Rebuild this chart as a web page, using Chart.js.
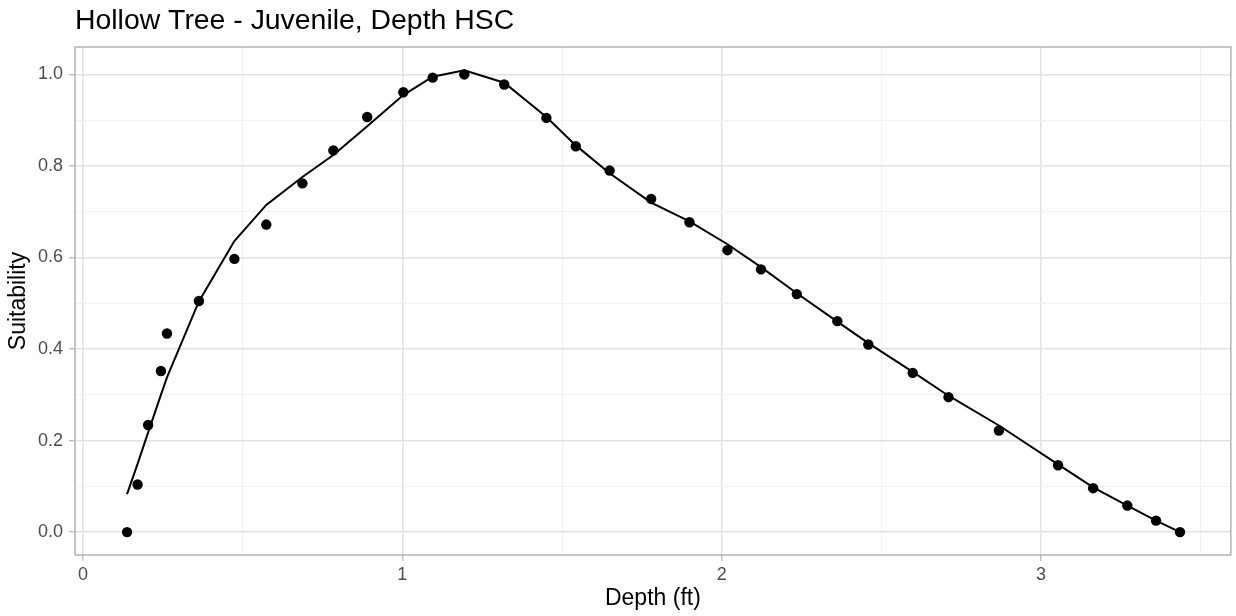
<!DOCTYPE html>
<html>
<head>
<meta charset="utf-8">
<script src="https://cdn.jsdelivr.net/npm/chart.js@4/dist/chart.umd.min.js"></script>
<style>
  body { margin: 0; background: #fff; }
</style>
</head>
<body>
<canvas id="myChart" width="1236" height="616"></canvas>
<script>
// depth (ft) of each observation
const depth = [0.138, 0.171, 0.204, 0.244, 0.263, 0.363, 0.474, 0.574, 0.687, 0.784, 0.890,
  1.003, 1.095, 1.194, 1.319, 1.451, 1.543, 1.649, 1.779, 1.899, 2.018, 2.123, 2.235, 2.362,
  2.459, 2.598, 2.710, 2.868, 3.053, 3.163, 3.270, 3.360, 3.435];
// observed suitability (points)
const suitability = [0.000, 0.104, 0.234, 0.352, 0.434, 0.505, 0.597, 0.672, 0.762, 0.834, 0.907,
  0.961, 0.993, 1.000, 0.978, 0.905, 0.843, 0.790, 0.728, 0.677, 0.616, 0.574, 0.520, 0.461,
  0.410, 0.348, 0.295, 0.222, 0.146, 0.096, 0.058, 0.025, 0.000];
// fitted curve (line)
const fitted = [0.083, 0.149, 0.218, 0.300, 0.338, 0.504, 0.636, 0.715, 0.776, 0.824, 0.887,
  0.955, 0.995, 1.009, 0.982, 0.907, 0.845, 0.784, 0.720, 0.679, 0.629, 0.579, 0.522, 0.460,
  0.413, 0.350, 0.298, 0.233, 0.148, 0.098, 0.058, 0.025, 0.000];

const xTicks = [0, 1, 2, 3];
const yTicks = [0.0, 0.2, 0.4, 0.6, 0.8, 1.0];

const FONT = "'Liberation Sans', Arial, sans-serif";
const MAJOR = '#e2e2e2';
const MINOR = '#f1f1f1';

function isMajor(list, v) {
  return list.some(t => Math.abs(t - v) < 1e-6);
}

const panelBorder = {
  id: 'panelBorder',
  afterDraw(chart) {
    const a = chart.chartArea;
    const c = chart.ctx;
    c.save();
    c.strokeStyle = '#b3b3b3';
    c.lineWidth = 1.5;
    c.strokeRect(a.left, a.top, a.right - a.left, a.bottom - a.top);
    c.restore();
  }
};

const ctx = document.getElementById('myChart').getContext('2d');
const myChart = new Chart(ctx, {
  type: 'scatter',
  data: {
    datasets: [
      {
        label: 'Observed',
        data: depth.map((d, i) => ({ x: d, y: suitability[i] })),
        showLine: false,
        pointRadius: 5.2,
        pointBackgroundColor: '#000',
        pointBorderWidth: 0,
      },
      {
        label: 'Fitted',
        data: depth.map((d, i) => ({ x: d, y: fitted[i] })),
        showLine: true,
        pointRadius: 0,
        borderColor: '#000',
        borderWidth: 2,
        tension: 0,
      },
    ],
  },
  options: {
    responsive: false,
    animation: false,
    layout: { padding: { left: 0, right: 3, top: 0, bottom: 0 } },
    plugins: {
      legend: { display: false },
      tooltip: { enabled: false },
      title: {
        display: true,
        text: 'Hollow Tree - Juvenile, Depth HSC',
        align: 'start',
        fullSize: false,
        color: '#000',
        font: { family: FONT, size: 28.4, weight: 'normal', lineHeight: 1.2 },
        padding: { top: 4, bottom: 8.9 },
      },
    },
    scales: {
      x: {
        type: 'linear',
        min: -0.025,
        max: 3.594,
        afterFit: (scale) => { scale.height = 61; },
        border: { display: false },
        grid: {
          color: (c) => isMajor(xTicks, c.tick.value) ? MAJOR : MINOR,
          lineWidth: (c) => isMajor(xTicks, c.tick.value) ? 1.5 : 1,
          tickColor: (c) => isMajor(xTicks, c.tick.value) ? '#b3b3b3' : 'rgba(0,0,0,0)',
          tickLength: 6,
          tickWidth: 1.2,
        },
        ticks: {
          stepSize: 0.5,
          includeBounds: false,
          padding: 3,
          color: '#4d4d4d',
          font: { family: FONT, size: 18 },
          maxRotation: 0,
          autoSkip: false,
          callback: (v) => isMajor(xTicks, v) ? String(Math.round(v)) : '',
        },
        title: {
          display: true,
          text: 'Depth (ft)',
          color: '#000',
          font: { family: FONT, size: 23 },
          padding: { top: 0, bottom: 4 },
        },
      },
      y: {
        type: 'linear',
        min: -0.05,
        max: 1.06,
        afterFit: (scale) => { scale.width = 75; },
        border: { display: false },
        grid: {
          color: (c) => isMajor(yTicks, c.tick.value) ? MAJOR : MINOR,
          lineWidth: (c) => isMajor(yTicks, c.tick.value) ? 1.5 : 1,
          tickColor: (c) => isMajor(yTicks, c.tick.value) ? '#b3b3b3' : 'rgba(0,0,0,0)',
          tickLength: 6,
          tickWidth: 1.2,
        },
        ticks: {
          stepSize: 0.1,
          includeBounds: false,
          padding: 6,
          color: '#4d4d4d',
          font: { family: FONT, size: 18 },
          autoSkip: false,
          callback: (v) => isMajor(yTicks, v) ? v.toFixed(1) : '',
        },
        title: {
          display: true,
          text: 'Suitability',
          color: '#000',
          font: { family: FONT, size: 23 },
          padding: { top: 5, bottom: 0 },
        },
      },
    },
  },
  plugins: [panelBorder],
});
</script>
</body>
</html>
